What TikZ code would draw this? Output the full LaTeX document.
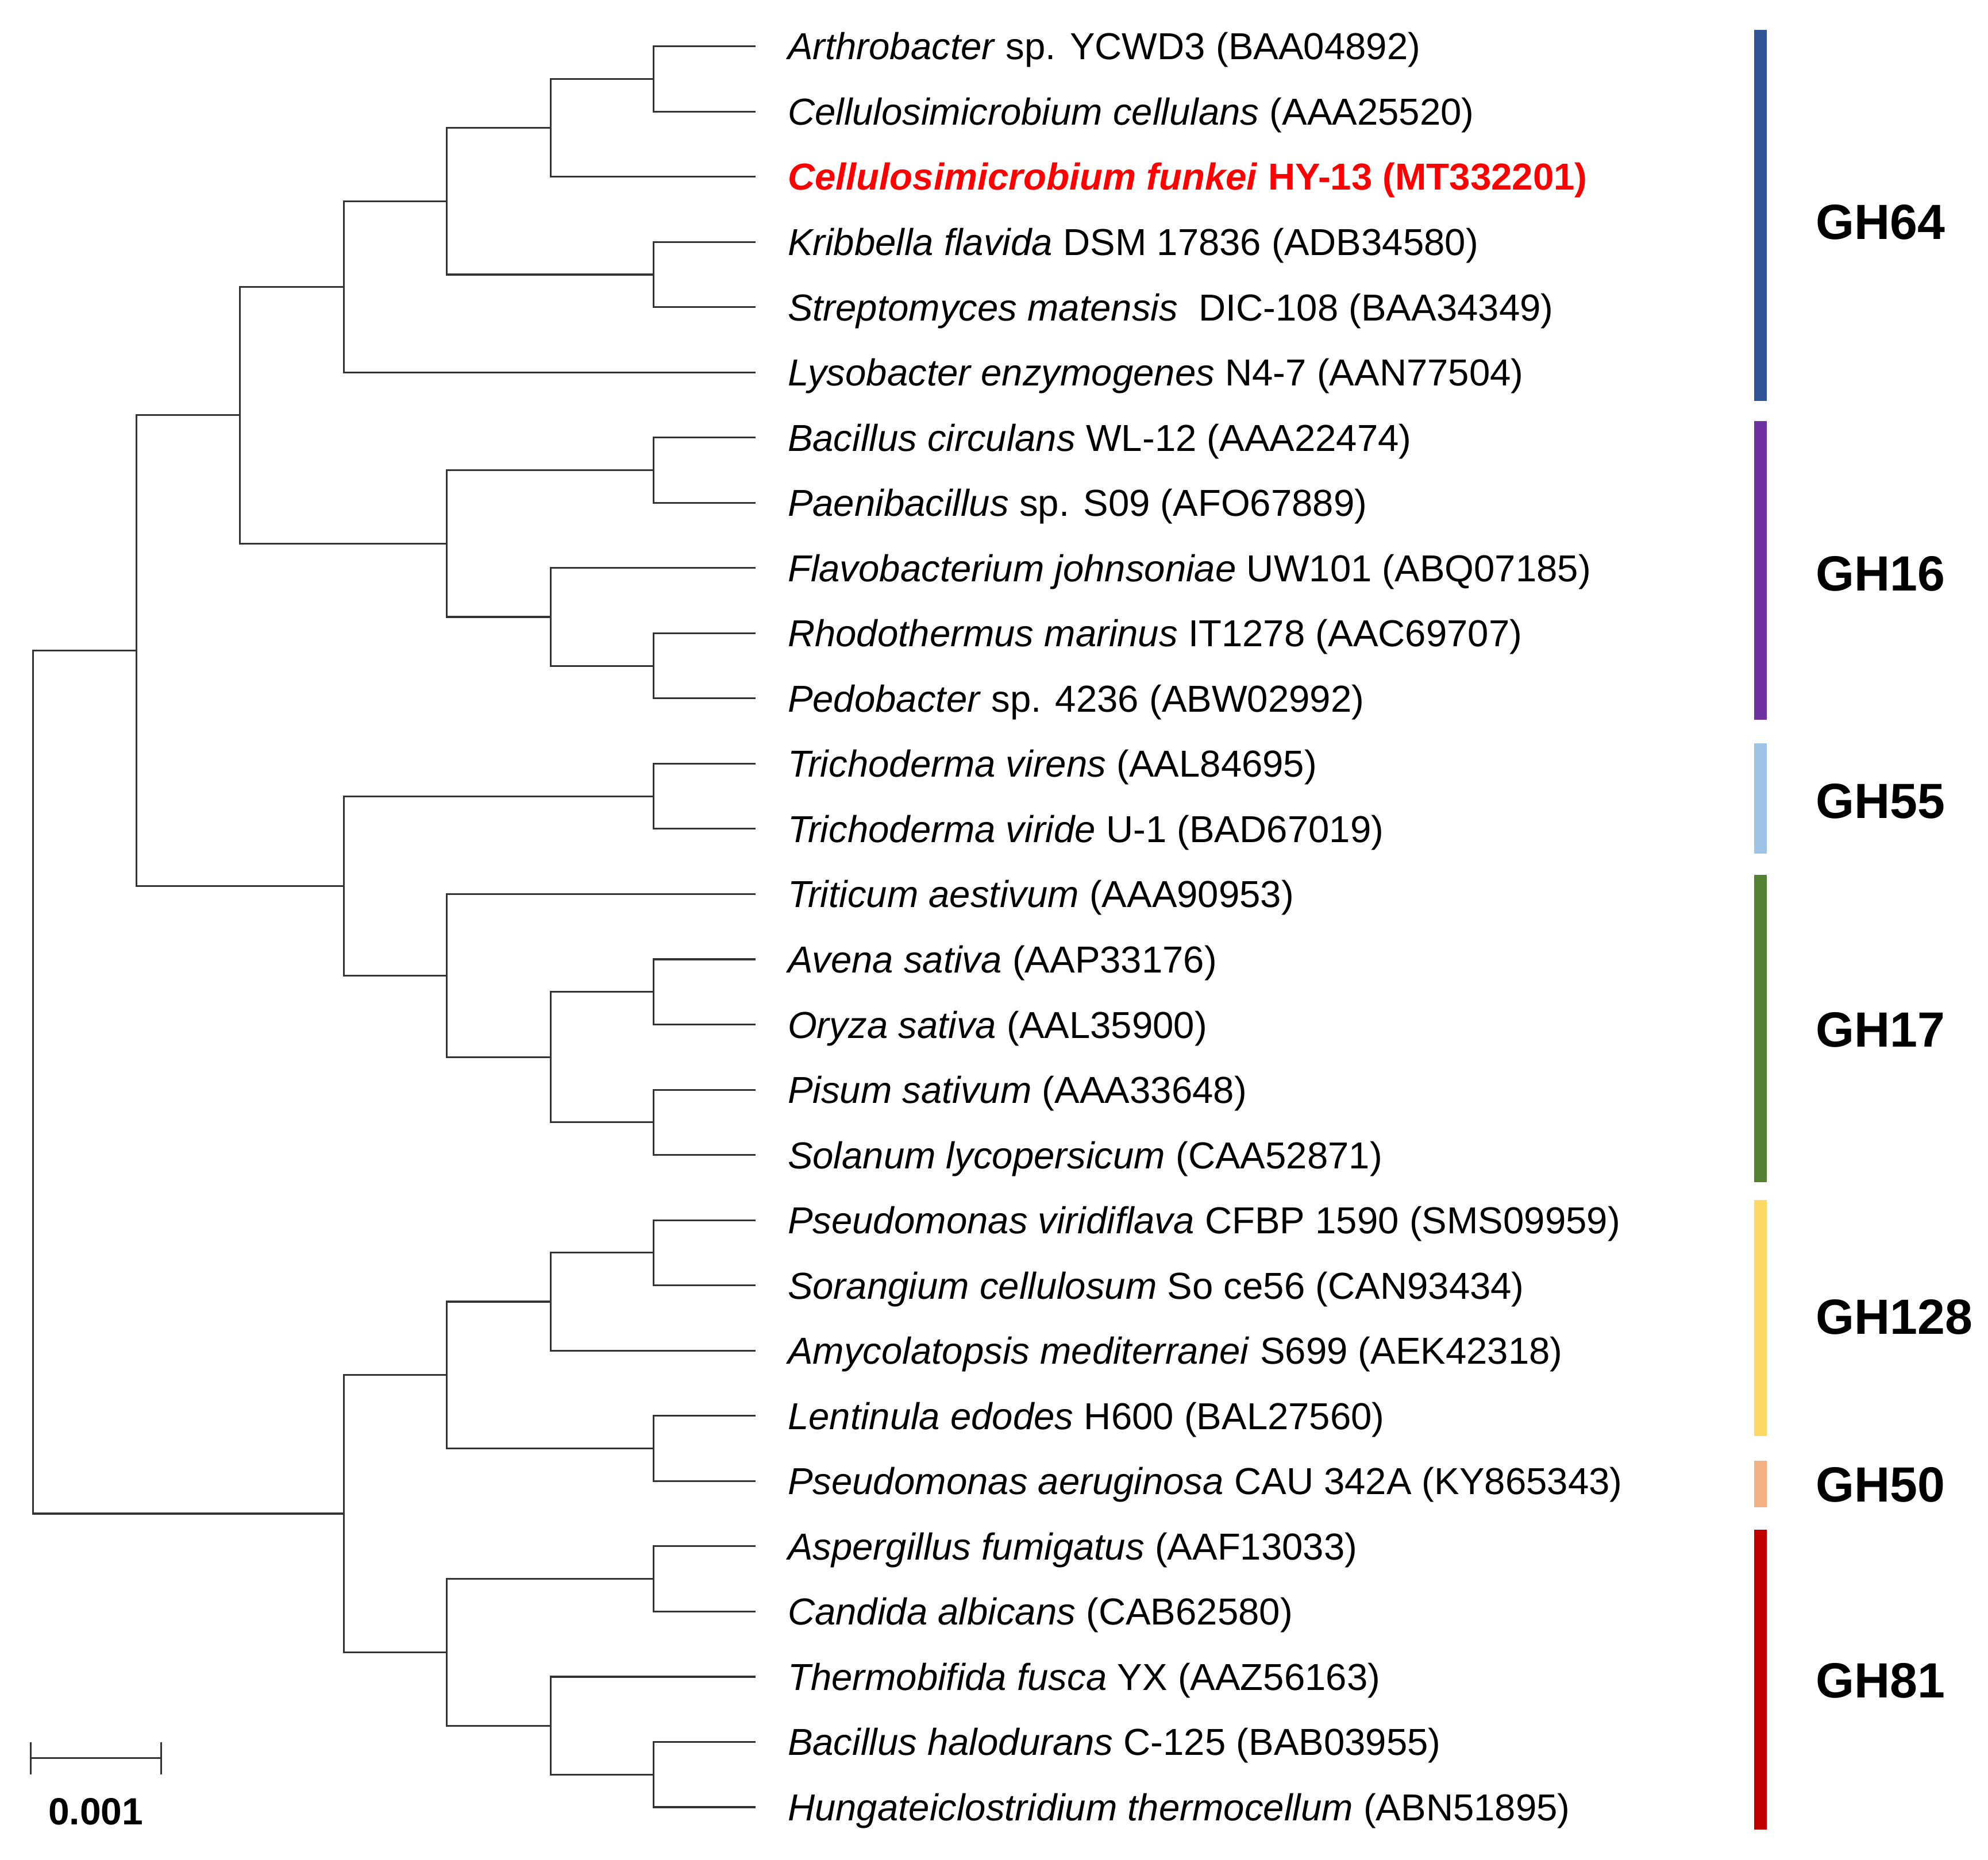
\documentclass[tikz,border=0pt]{standalone}
\usepackage{fontspec}
\setmainfont{Liberation Sans}
\definecolor{ghblue}{HTML}{2F5597}
\definecolor{ghpurple}{HTML}{7030A0}
\definecolor{ghsky}{HTML}{9DC3E6}
\definecolor{ghgreen}{HTML}{548235}
\definecolor{ghyellow}{HTML}{FFD966}
\definecolor{ghsalmon}{HTML}{F4B183}
\definecolor{ghred}{HTML}{C00000}
\begin{document}
\begin{tikzpicture}[x=0.02cm, y=-0.02cm]
\tikzstyle{leaf}=[anchor=west, inner xsep=0.5cm, inner ysep=0pt, text height=12.06pt, text depth=0pt, font=\fontsize{16.85}{20}\selectfont]
\tikzstyle{branch}=[draw, line width=0.8pt, black!80]
\tikzstyle{family}=[anchor=west, inner sep=0pt, text height=15.9pt, text depth=0pt, font=\fontsize{22.2}{26}\selectfont\bfseries]
\tikzstyle{bar}=[line width=0.2cm]

\useasboundingbox (0,0) rectangle (1568,1467);

% Define leaves
\node[leaf] (l1) at (596,36.5) {\textit{Arthrobacter} sp. YCWD3 (BAA04892)};
\node[leaf] (l2) at (596,88.0) {\textit{Cellulosimicrobium cellulans} (AAA25520)};
\node[leaf, text=red, font=\fontsize{16.85}{20}\selectfont\bfseries] (l3) at (596,139.4) {\textit{Cellulosimicrobium funkei} HY-13 (MT332201)};
\node[leaf] (l4) at (596,190.9) {\textit{Kribbella flavida} DSM 17836 (ADB34580)};
\node[leaf] (l5) at (596,242.3) {\textit{Streptomyces matensis}\ \ DIC-108 (BAA34349)};
\node[leaf] (l6) at (596,293.8) {\textit{Lysobacter enzymogenes} N4-7 (AAN77504)};
\node[leaf] (l7) at (596,345.2) {\textit{Bacillus circulans} WL-12 (AAA22474)};
\node[leaf] (l8) at (596,396.7) {\textit{Paenibacillus} sp. S09 (AFO67889)};
\node[leaf] (l9) at (596,448.1) {\textit{Flavobacterium johnsoniae} UW101 (ABQ07185)};
\node[leaf] (l10) at (596,499.6) {\textit{Rhodothermus marinus} IT1278 (AAC69707)};
\node[leaf] (l11) at (596,551.0) {\textit{Pedobacter} sp. 4236 (ABW02992)};
\node[leaf] (l12) at (596,602.5) {\textit{Trichoderma virens} (AAL84695)};
\node[leaf] (l13) at (596,653.9) {\textit{Trichoderma viride} U-1 (BAD67019)};
\node[leaf] (l14) at (596,705.4) {\textit{Triticum aestivum} (AAA90953)};
\node[leaf] (l15) at (596,756.8) {\textit{Avena sativa} (AAP33176)};
\node[leaf] (l16) at (596,808.3) {\textit{Oryza sativa} (AAL35900)};
\node[leaf] (l17) at (596,859.7) {\textit{Pisum sativum} (AAA33648)};
\node[leaf] (l18) at (596,911.2) {\textit{Solanum lycopersicum} (CAA52871)};
\node[leaf] (l19) at (596,962.6) {\textit{Pseudomonas viridiflava} CFBP 1590 (SMS09959)};
\node[leaf] (l20) at (596,1014.1) {\textit{Sorangium cellulosum} So ce56 (CAN93434)};
\node[leaf] (l21) at (596,1065.5) {\textit{Amycolatopsis mediterranei} S699 (AEK42318)};
\node[leaf] (l22) at (596,1117.0) {\textit{Lentinula edodes} H600 (BAL27560)};
\node[leaf] (l23) at (596,1168.4) {\textit{Pseudomonas aeruginosa} CAU 342A (KY865343)};
\node[leaf] (l24) at (596,1219.9) {\textit{Aspergillus fumigatus} (AAF13033)};
\node[leaf] (l25) at (596,1271.3) {\textit{Candida albicans} (CAB62580)};
\node[leaf] (l26) at (596,1322.8) {\textit{Thermobifida fusca} YX (AAZ56163)};
\node[leaf] (l27) at (596,1374.2) {\textit{Bacillus halodurans} C-125 (BAB03955)};
\node[leaf] (l28) at (596,1425.7) {\textit{Hungateiclostridium thermocellum} (ABN51895)};

% Internal nodes
\coordinate (n1) at (515.5,62.2);
\coordinate (n2) at (434.2,100.8);
\coordinate (n3) at (515.5,216.6);
\coordinate (n4) at (352.4,158.7);
\coordinate (n5) at (271.1,226.2);
\coordinate (n6) at (515.5,370.9);
\coordinate (n7) at (515.5,525.3);
\coordinate (n8) at (434.2,486.7);
\coordinate (n9) at (352.4,428.8);
\coordinate (n10) at (189.4,327.5);
\coordinate (n11) at (515.5,628.2);
\coordinate (n12) at (515.5,782.5);
\coordinate (n13) at (515.5,885.4);
\coordinate (n14) at (434.2,834.0);
\coordinate (n15) at (352.4,769.7);
\coordinate (n16) at (271.1,699.0);
\coordinate (n17) at (107.6,513.2);
\coordinate (n18) at (515.5,988.3);
\coordinate (n19) at (434.2,1026.9);
\coordinate (n20) at (515.5,1142.7);
\coordinate (n21) at (352.4,1084.8);
\coordinate (n22) at (515.5,1245.6);
\coordinate (n23) at (515.5,1400.0);
\coordinate (n24) at (434.2,1361.4);
\coordinate (n25) at (352.4,1303.5);
\coordinate (n26) at (271.1,1194.1);
\coordinate (root) at (25.9,853.7);

% Draw branches
\draw[branch] (l1.west) -| (n1) |- (l2.west);
\draw[branch] (n1) -| (n2) |- (l3.west);
\draw[branch] (l4.west) -| (n3) |- (l5.west);
\draw[branch] (n2) -| (n4) |- (n3);
\draw[branch] (n4) -| (n5) |- (l6.west);
\draw[branch] (l7.west) -| (n6) |- (l8.west);
\draw[branch] (l10.west) -| (n7) |- (l11.west);
\draw[branch] (l9.west) -| (n8) |- (n7);
\draw[branch] (n6) -| (n9) |- (n8);
\draw[branch] (n5) -| (n10) |- (n9);
\draw[branch] (l12.west) -| (n11) |- (l13.west);
\draw[branch] (l15.west) -| (n12) |- (l16.west);
\draw[branch] (l17.west) -| (n13) |- (l18.west);
\draw[branch] (n12) -| (n14) |- (n13);
\draw[branch] (l14.west) -| (n15) |- (n14);
\draw[branch] (n11) -| (n16) |- (n15);
\draw[branch] (n10) -| (n17) |- (n16);
\draw[branch] (l19.west) -| (n18) |- (l20.west);
\draw[branch] (n18) -| (n19) |- (l21.west);
\draw[branch] (l22.west) -| (n20) |- (l23.west);
\draw[branch] (n19) -| (n21) |- (n20);
\draw[branch] (l24.west) -| (n22) |- (l25.west);
\draw[branch] (l27.west) -| (n23) |- (l28.west);
\draw[branch] (l26.west) -| (n24) |- (n23);
\draw[branch] (n22) -| (n25) |- (n24);
\draw[branch] (n21) -| (n26) |- (n25);
\draw[branch] (n17) -| (root) |- (n26);

% Family bars
\draw[bar, ghblue] (1388.6,23.4) -- (1388.6,316.2);
\draw[bar, ghpurple] (1388.6,332.0) -- (1388.6,568.0);
\draw[bar, ghsky] (1388.6,586.6) -- (1388.6,673.6);
\draw[bar, ghgreen] (1388.6,690.4) -- (1388.6,932.7);
\draw[bar, ghyellow] (1388.6,946.8) -- (1388.6,1133.0);
\draw[bar, ghsalmon] (1388.6,1152.6) -- (1388.6,1189.0);
\draw[bar, ghred] (1388.6,1206.8) -- (1388.6,1443.5);

% Family labels
\node[family] (gh64) at (1432,175.0) {GH64};
\node[family] (gh16) at (1432,452.0) {GH16};
\node[family] (gh55) at (1432,631.5) {GH55};
\node[family] (gh17) at (1432,812.0) {GH17};
\node[family] (gh128) at (1432,1038.5) {GH128};
\node[family] (gh50) at (1432,1171.0) {GH50};
\node[family] (gh81) at (1432,1325.6) {GH81};

% Scale bar
\coordinate (sbl) at (24.3,1387);
\coordinate (sbr) at (127.0,1387);
\draw[branch] (sbl) -- (sbr);
\draw[branch] (24.3,1374.5) -- (24.3,1400.0);
\draw[branch] (127.0,1374.5) -- (127.0,1400.0);
\node[font=\fontsize{17}{20}\selectfont\bfseries] (scale) at (75.5,1429) {0.001};
\end{tikzpicture}
\end{document}
